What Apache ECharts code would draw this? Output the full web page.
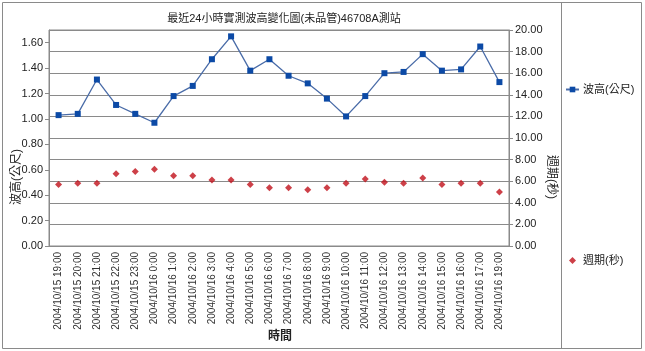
<!DOCTYPE html>
<html><head><meta charset="utf-8">
<script src="https://cdn.jsdelivr.net/npm/echarts@6/dist/echarts.min.js"></script>
<style>html,body{margin:0;padding:0;background:#fff}#c{width:645px;height:351px}</style>
</head><body><div id="c"></div>
<script>
var categories = ['2004/10/15 19:00','2004/10/15 20:00','2004/10/15 21:00','2004/10/15 22:00','2004/10/15 23:00',
 '2004/10/16 0:00','2004/10/16 1:00','2004/10/16 2:00','2004/10/16 3:00','2004/10/16 4:00','2004/10/16 5:00',
 '2004/10/16 6:00','2004/10/16 7:00','2004/10/16 8:00','2004/10/16 9:00','2004/10/16 10:00','2004/10/16 11:00',
 '2004/10/16 12:00','2004/10/16 13:00','2004/10/16 14:00','2004/10/16 15:00','2004/10/16 16:00','2004/10/16 17:00',
 '2004/10/16 19:00'];
var waveHeight = [1.03,1.04,1.31,1.11,1.04,0.97,1.18,1.26,1.47,1.65,1.38,1.47,1.34,1.28,1.16,1.02,1.18,1.36,1.37,1.51,1.38,1.39,1.57,1.29];
var wavePeriod = [5.7,5.8,5.8,6.7,6.9,7.1,6.5,6.5,6.1,6.1,5.7,5.4,5.4,5.2,5.4,5.8,6.2,5.9,5.8,6.3,5.7,5.8,5.8,5.0];
var titleText = '最近24小時實測波高變化圖(未品管)46708A測站';
var seriesNames = ['波高(公尺)','週期(秒)'];
var xName = '時間';

var FONT = '"Liberation Sans","Noto Sans CJK TC",sans-serif';
var chart = echarts.init(document.getElementById('c'));
chart.setOption({
  animation: false,
  textStyle: {fontFamily: FONT},
  title: {text: titleText, left: 279, top: 8, textAlign: 'center',
    textStyle: {fontSize: 11, fontWeight: 'normal', color: '#222', fontFamily: FONT}},
  grid: {left: 49, top: 30, right: 136, bottom: 105, show: true, borderColor: '#8a8a8a', borderWidth: 1},
  legend: [
    {data: [seriesNames[0]], left: 565, top: 84, padding: 0, itemWidth: 13, itemHeight: 7, itemGap: 5,
      textStyle: {fontSize: 11, color: '#222', fontFamily: FONT, padding: [0, 0, 0, -1]}},
    {data: [{name: seriesNames[1], icon: 'diamond'}], left: 569, top: 255, padding: 0, itemWidth: 7, itemHeight: 7,
      textStyle: {fontSize: 11, color: '#222', fontFamily: FONT, padding: [0, 0, 0, 2]}}
  ],
  xAxis: {type: 'category', data: categories, boundaryGap: true,
    axisLine: {lineStyle: {color: '#8a8a8a'}},
    axisTick: {alignWithLabel: true, length: 4, lineStyle: {color: '#8a8a8a'}},
    axisLabel: {rotate: 90, fontSize: 10, color: '#333', margin: 6, interval: 0}},
  yAxis: [
    {type: 'value', min: 0, max: 1.7, interval: 0.2, position: 'left',
      axisLine: {show: true, lineStyle: {color: '#8a8a8a'}},
      axisTick: {show: true, length: 4, lineStyle: {color: '#8a8a8a'}},
      splitLine: {show: false},
      axisLabel: {fontSize: 11, color: '#222', margin: 6, showMaxLabel: false,
        formatter: function (v) { return v > 1.65 ? '' : v.toFixed(2); }}},
    {type: 'value', min: 0, max: 20, interval: 2, position: 'right',
      axisLine: {show: true, lineStyle: {color: '#8a8a8a'}},
      axisTick: {show: true, length: 4, lineStyle: {color: '#8a8a8a'}},
      splitLine: {show: true, lineStyle: {color: '#8a8a8a', width: 1}},
      axisLabel: {fontSize: 11, color: '#222', margin: 6,
        formatter: function (v) { return v.toFixed(2); }}}
  ],
  series: [
    {name: seriesNames[0], type: 'line', yAxisIndex: 0, data: waveHeight,
      symbol: 'rect', symbolSize: 6, showAllSymbol: true,
      lineStyle: {color: '#4a6ca8', width: 1.3},
      itemStyle: {color: '#0c4aa6'}},
    {name: seriesNames[1], type: 'scatter', yAxisIndex: 1, data: wavePeriod,
      symbol: 'diamond', symbolSize: 7,
      itemStyle: {color: '#c0101a'}}
  ],
  graphic: [
    {type: 'rect', shape: {x: 2.5, y: 2.5, width: 639, height: 346}, style: {fill: 'none', stroke: '#8a8a8a', lineWidth: 1}, z: -1},
    {type: 'line', shape: {x1: 561.5, y1: 2.5, x2: 561.5, y2: 348.5}, style: {stroke: '#8a8a8a', lineWidth: 1}},
    {type: 'text', x: 17, y: 177, rotation: Math.PI / 2,
      style: {text: seriesNames[0], fill: '#222', font: '12px ' + FONT, textAlign: 'center', textVerticalAlign: 'middle'}},
    {type: 'text', x: 551, y: 177, rotation: -Math.PI / 2,
      style: {text: seriesNames[1], fill: '#222', font: '12px ' + FONT, textAlign: 'center', textVerticalAlign: 'middle'}},
    {type: 'text', x: 280, y: 337,
      style: {text: xName, fill: '#222', font: 'bold 12px ' + FONT, textAlign: 'center', textVerticalAlign: 'middle'}}
  ]
});
</script></body></html>
